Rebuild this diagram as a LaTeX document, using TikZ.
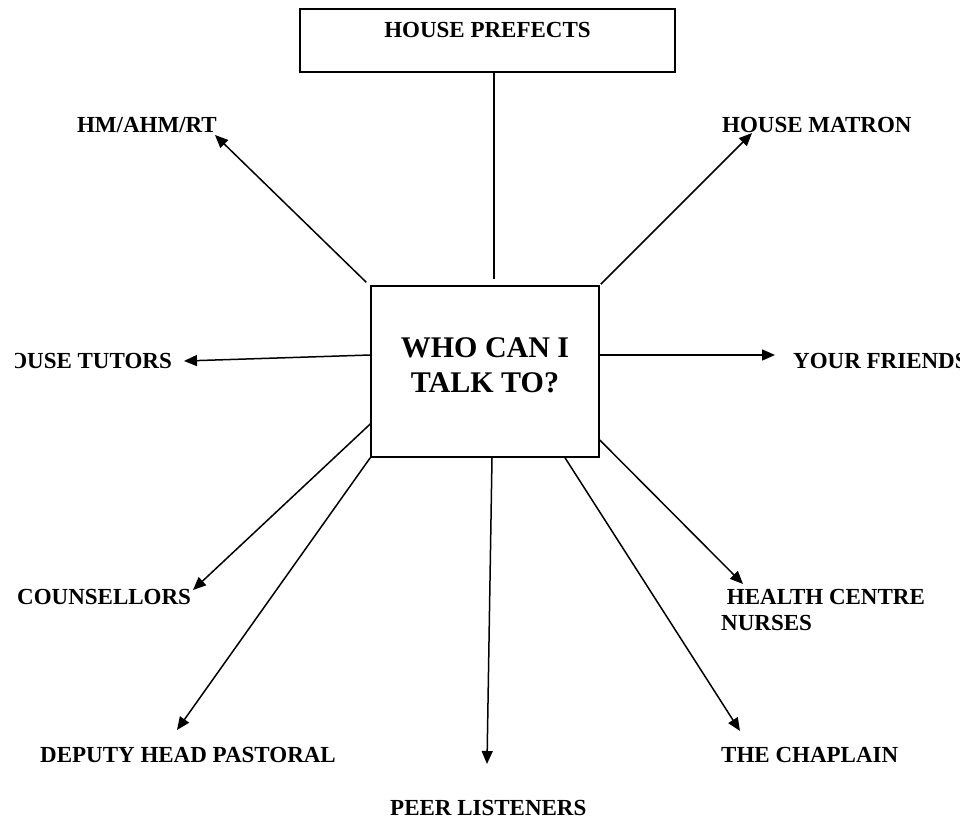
\documentclass[tikz,border=0pt]{standalone}
\usepackage{fontspec}
\setmainfont{Liberation Serif}
\usetikzlibrary{arrows.meta}

\begin{document}
\begin{tikzpicture}[x=1pt, y=-1pt,
    box/.style={draw=black, line width=1.5pt, fill=white, inner sep=0pt,
        font=\bfseries\fontsize{23}{26}\selectfont},
    person/.style={inner sep=0pt, font=\bfseries\fontsize{23}{26}\selectfont},
    pointer/.style={line width=1.5pt, -{Triangle[length=13pt, width=11pt]}},
    link/.style={line width=1.5pt, -}
]
    \useasboundingbox (0,0) rectangle (967,819);
    \clip (15,0) rectangle (959,819);
    \node[box, minimum width=375pt, minimum height=63pt, text depth=21pt] (prefects) at (487.5,40.5) {HOUSE PREFECTS};
    \node[box, minimum width=228pt, minimum height=171pt, align=center, text depth=12pt,
        font=\bfseries\fontsize{30}{35}\selectfont] (who) at (485,371.5) {WHO CAN I\\TALK TO?};
    \node[person, anchor=base east] (hm) at (217,132) {HM/AHM/RT};
    \node[person, anchor=base west] (matron) at (722,132) {HOUSE MATRON};
    \node[person, anchor=base east] (tutors) at (172,368) {HOUSE TUTORS};
    \node[person, anchor=base west] (friends) at (793,368) {YOUR FRIENDS};
    \node[person, anchor=base west] (counsellors) at (17,604) {COUNSELLORS};
    \node[person, anchor=north west, align=left] (health) at (721,588.8) {\ HEALTH CENTRE\\NURSES};
    \node[person, anchor=base west] (deputy) at (40,762) {DEPUTY HEAD PASTORAL};
    \node[person, anchor=base west] (chaplain) at (721,762) {THE CHAPLAIN};
    \node[person, anchor=base west] (peer) at (390,815) {PEER LISTENERS};
    \coordinate (hmTip) at (215,135);
    \coordinate (matronTip) at (752,133);
    \coordinate (tutorsTip) at (184,361);
    \coordinate (friendsTip) at (775,355);
    \coordinate (counsellorsTip) at (193,590);
    \coordinate (healthTip) at (743,584);
    \coordinate (deputyTip) at (177,730);
    \coordinate (chaplainTip) at (740,731);
    \coordinate (peerTip) at (487,764);
    \draw[link] ([xshift=6.5pt]prefects.south) -- ([xshift=9pt, yshift=6pt]who.north);
    \draw[pointer] ([shift={(-4pt,3pt)}]who.north west) -- (hmTip);
    \draw[pointer] ([shift={(1pt,1pt)}]who.north east) -- (matronTip);
    \draw[pointer] ([yshift=16.5pt]who.west) -- (tutorsTip);
    \draw[pointer] ([yshift=16.5pt]who.east) -- (friendsTip);
    \draw[pointer] ([yshift=-52.5pt]who.west) -- (counsellorsTip);
    \draw[pointer] ([yshift=-68.5pt]who.east) -- (healthTip);
    \draw[pointer] (who.south west) -- (deputyTip);
    \draw[pointer] ([xshift=80pt]who.south) -- (chaplainTip);
    \draw[pointer] ([xshift=7pt]who.south) -- (peerTip);
\end{tikzpicture}
\end{document}
